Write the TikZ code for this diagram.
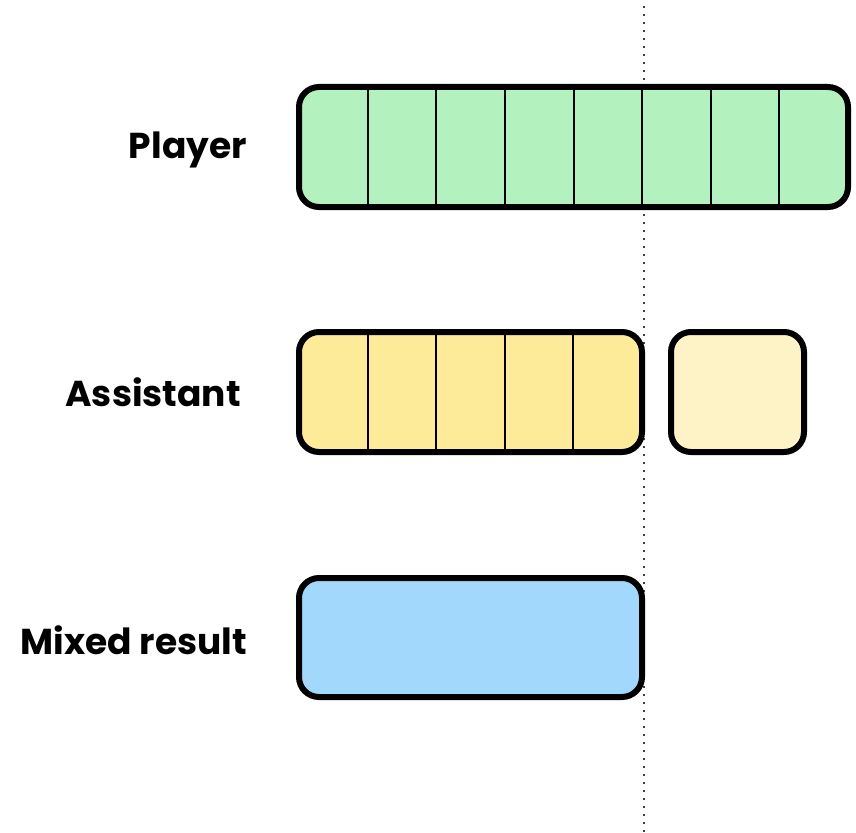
\documentclass[tikz,border=0pt]{standalone}
\usepackage{fontspec}
\setmainfont{Poppins}
\definecolor{pgreen}{HTML}{B3F2BF}
\definecolor{pyellow}{HTML}{FEEB99}
\definecolor{plyellow}{HTML}{FEF3C7}
\definecolor{pblue}{HTML}{A3D8FD}
\begin{document}
\begin{tikzpicture}[x=1pt,y=-1pt,
  bar/.style={line width=6pt,rounded corners=20pt,draw=black},
  cell/.style={line width=2pt,draw=black},
  lbl/.style={font=\fontsize{36}{40}\selectfont\bfseries,inner sep=0pt},
  guide/.style={line width=1.6pt,dash pattern=on 1.6pt off 6.4pt,draw=black!75}]
\useasboundingbox (0,0) rectangle (856,832);
\coordinate (gtop) at (644,6);
\coordinate (gbot) at (644,832);
\draw[guide] (gtop) -- (gbot);
% player
\node[lbl,anchor=base east] (lp) at (247,158) {Player};
\path[fill=pgreen] (299,87) [rounded corners=20pt] rectangle (848,207);
\foreach \i in {1,...,7}{\draw[cell] ({299+\i*68.625},87) -- ({299+\i*68.625},207);}
\draw[bar] (299,87) rectangle (848,207);
% assistant
\node[lbl,anchor=base east] (la) at (241,406) {Assistant};
\path[fill=pyellow] (299,332) [rounded corners=20pt] rectangle (642,452);
\foreach \i in {1,...,4}{\draw[cell] ({299+\i*68.6},332) -- ({299+\i*68.6},452);}
\draw[bar] (299,332) rectangle (642,452);
\draw[bar,fill=plyellow] (671,332) rectangle (804,452);
% mixed
\node[lbl,anchor=base east] (lm) at (247,654) {Mixed result};
\draw[bar,fill=pblue] (299,578) rectangle (642,697);
\end{tikzpicture}
\end{document}
